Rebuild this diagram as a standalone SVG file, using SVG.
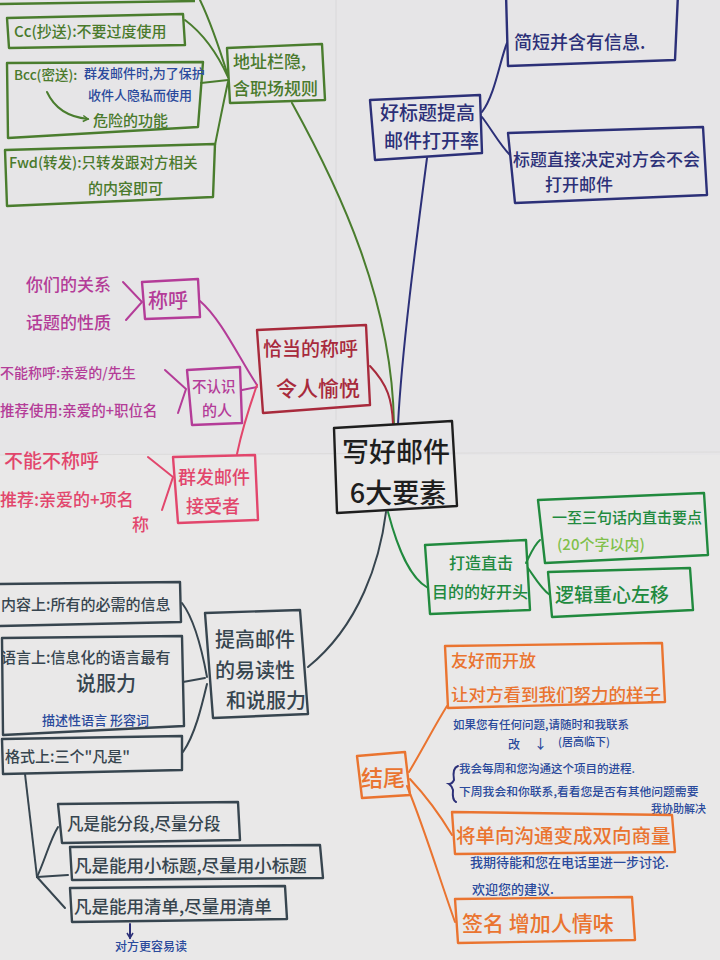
<svg xmlns="http://www.w3.org/2000/svg" width="720" height="960" viewBox="0 0 720 960">
<defs>
<style>
text{font-family:"Noto Sans CJK SC","Noto Sans",sans-serif;font-weight:500}
.box{fill:none;stroke-width:2.4;stroke-linejoin:round}
.ln{fill:none;stroke-width:2;stroke-linecap:round}
.blk{stroke:#1e1e1e}.blkT{fill:#1e1e1e}
.grn{stroke:#4a7d2e}.grnT{fill:#4a7a2c}
.nav{stroke:#2c3078}.navT{fill:#2c3078}
.crm{stroke:#a82a3c}.crmT{fill:#a82a3c}
.mag{stroke:#b43c98}.magT{fill:#b43c98}
.pnk{stroke:#e2466c}.pnkT{fill:#e2466c}
.dgr{stroke:#218a3e}.dgrT{fill:#218a3e}
.lgrT{fill:#80c04a}
.slt{stroke:#37454f}.sltT{fill:#37454f}
.org{stroke:#ea7430}.orgT{fill:#ea7430}
.bluT{fill:#2a4a9c}
</style>
<marker id="ah" markerWidth="8" markerHeight="8" refX="6" refY="4" orient="auto" markerUnits="userSpaceOnUse"><path d="M1,1 L6,4 L1,7" fill="none" stroke-width="1.5" stroke="context-stroke"/></marker>
</defs>
<rect x="0" y="0" width="720" height="960" fill="#e9e8e8"/>
<rect x="0" y="0" width="720" height="455" fill="#e6e5e7"/>
<line x1="336" y1="0" x2="336" y2="420" stroke="#d9d8da" stroke-width="1"/>
<line x1="0" y1="455" x2="720" y2="452" stroke="#dcdbdb" stroke-width="1"/>

<g id="connectors">
<path class="ln grn" d="M292,103 C340,190 392,300 394,424"/>
<path class="ln nav" d="M427,158 C415,250 402,350 398,424"/>
<path class="ln crm" d="M370,366 C388,385 392,400 393,424"/>
<path class="ln dgr" d="M388,512 C398,550 410,578 428,588"/>
<path class="ln slt" d="M386,512 C380,560 360,625 308,667"/>
<path class="ln grn" d="M200,0 C212,25 220,50 228,76"/>
<path class="ln grn" d="M185,20 C205,35 218,55 228,77"/>
<path class="ln grn" d="M201,83 L228,80"/>
<path class="ln grn" d="M215,145 C220,120 224,100 228,82"/>
<path class="ln nav" d="M482,112 C495,95 500,60 507,43"/>
<path class="ln nav" d="M482,117 C492,130 500,145 510,155"/>
<path class="ln mag" d="M200,301 C222,320 240,360 257,385"/>
<path class="ln mag" d="M242,390 L257,387"/>
<path class="ln pnk" d="M237,454 C242,430 250,405 257,385"/>
<path class="ln mag" d="M123,282 L142,302 L126,320"/>
<path class="ln mag" d="M165,370 L186,389 L178,413"/>
<path class="ln pnk" d="M148,457 L173,477 L162,510"/>
<path class="ln dgr" d="M526,563 C530,555 534,545 540,540"/>
<path class="ln dgr" d="M528,568 C535,578 542,590 550,595"/>
<path class="ln slt" d="M182,603 C195,620 202,650 207,677"/>
<path class="ln slt" d="M183,682 L205,678"/>
<path class="ln slt" d="M183,752 C195,735 202,705 207,684"/>
<path class="ln slt" d="M25,774 L37,877"/>
<path class="ln slt" d="M37,877 C45,860 50,840 58,827"/>
<path class="ln slt" d="M37,877 L68,875"/>
<path class="ln slt" d="M37,877 L65,908"/>
<path class="ln nav" d="M130,924 L130,938" marker-end="url(#ah)" stroke-width="1.3"/>
<path class="ln org" d="M409,772 C425,745 435,725 447,706"/>
<path class="ln org" d="M410,779 C425,795 440,815 452,835"/>
<path class="ln org" d="M407,786 C425,830 440,880 455,922"/>
</g>

<g id="center">
<path class="box blk" d="M334,428 L452,421 L457,506 L337,513 Z" stroke-width="3"/>
<text class="blkT" x="396" y="462" font-size="27" font-weight="700" text-anchor="middle">写好邮件</text>
<text class="blkT" x="398" y="503" font-size="27" font-weight="700" text-anchor="middle">6大要素</text>
</g>

<g id="n-address">
<path class="box grn" d="M227,48 L322,44 L325,100 L230,103 Z"/>
<text class="grnT" x="233" y="68" font-size="17">地址栏隐,</text>
<text class="grnT" x="233" y="95" font-size="17">含职场规则</text>
</g>
<g id="l-top-cut"><path class="box grn" d="M0,4 L195,1"/></g>
<g id="l-cc">
<path class="box grn" d="M7,18 L183,14 L185,45 L9,48 Z"/>
<text class="grnT" x="14" y="37" font-size="15">Cc(抄送):不要过度使用</text>
</g>
<g id="l-bcc">
<path class="box grn" d="M7,63 L203,62 L198,127 L8,138 Z"/>
<text class="grnT" x="14" y="80" font-size="13.5">Bcc(密送):</text>
<text class="bluT" x="84" y="78" font-size="13">群发邮件时,为了保护</text>
<text class="bluT" x="88" y="100" font-size="13">收件人隐私而使用</text>
<path class="ln grn" d="M47,92 Q58,116 88,119" marker-end="url(#ah)" stroke-width="1.6"/>
<text class="grnT" x="93" y="126" font-size="15">危险的功能</text>
</g>
<g id="l-fwd">
<path class="box grn" d="M5,150 L215,144 L213,197 L7,206 Z"/>
<text class="grnT" x="9" y="168" font-size="14.5">Fwd(转发):只转发跟对方相关</text>
<text class="grnT" x="88" y="194" font-size="15">的内容即可</text>
</g>

<g id="n-subject">
<path class="box nav" d="M370,100 L480,95 L482,153 L375,160 Z"/>
<text class="navT" x="380" y="120" font-size="19">好标题提高</text>
<text class="navT" x="384" y="148" font-size="19">邮件打开率</text>
</g>
<g id="l-short">
<path class="box nav" d="M506,-6 L678,-6 L675,60 L508,66 Z"/>
<text class="navT" x="514" y="49" font-size="18">简短并含有信息.</text>
</g>
<g id="l-decide">
<path class="box nav" d="M508,133 L703,127 L707,195 L515,203 Z"/>
<text class="navT" x="513" y="166" font-size="17">标题直接决定对方会不会</text>
<text class="navT" x="545" y="191" font-size="17">打开邮件</text>
</g>

<g id="n-greeting">
<path class="box crm" d="M257,330 L366,325 L370,405 L263,413 Z"/>
<text class="crmT" x="263" y="356" font-size="19">恰当的称呼</text>
<text class="crmT" x="276" y="396" font-size="21">令人愉悦</text>
</g>
<g id="s-title">
<path class="box mag" d="M142,282 L198,279 L200,317 L145,319 Z"/>
<text class="magT" x="148" y="308" font-size="20">称呼</text>
</g>
<g id="s-stranger">
<path class="box mag" d="M187,370 L240,367 L242,423 L192,425 Z"/>
<text class="magT" x="192" y="392" font-size="14.5">不认识</text>
<text class="magT" x="202" y="416" font-size="15">的人</text>
</g>
<g id="s-group">
<path class="box pnk" d="M173,457 L255,455 L258,520 L178,523 Z"/>
<text class="pnkT" x="178" y="484" font-size="18">群发邮件</text>
<text class="pnkT" x="186" y="513" font-size="18">接受者</text>
</g>
<g id="t-relation"><text class="magT" x="26" y="291" font-size="17">你们的关系</text></g>
<g id="t-topic"><text class="magT" x="26" y="329" font-size="17">话题的性质</text></g>
<g id="t-cannot"><text class="magT" x="0" y="378" font-size="14">不能称呼:亲爱的/先生</text></g>
<g id="t-recommend"><text class="magT" x="0" y="416" font-size="14.5">推荐使用:亲爱的+职位名</text></g>
<g id="t-must"><text class="pnkT" x="4" y="468" font-size="19">不能不称呼</text></g>
<g id="t-recommend2">
<text class="pnkT" x="0" y="506" font-size="17">推荐:亲爱的+项名</text>
<text class="pnkT" x="132" y="531" font-size="17">称</text>
</g>

<g id="n-opening">
<path class="box dgr" d="M425,545 L526,540 L530,610 L430,614 Z"/>
<text class="dgrT" x="449" y="569" font-size="16">打造直击</text>
<text class="dgrT" x="432" y="598" font-size="16">目的的好开头</text>
</g>
<g id="l-points">
<path class="box dgr" d="M538,500 L704,493 L708,555 L545,563 Z"/>
<text class="dgrT" x="552" y="523" font-size="15">一至三句话内直击要点</text>
<text class="lgrT" x="557" y="550" font-size="15">(20个字以内)</text>
</g>
<g id="l-logic">
<path class="box dgr" d="M548,572 L690,568 L693,610 L552,617 Z"/>
<text class="dgrT" x="555" y="602" font-size="19">逻辑重心左移</text>
</g>

<g id="n-readability">
<path class="box slt" d="M205,613 L300,610 L308,714 L213,718 Z"/>
<text class="sltT" x="215" y="647" font-size="20">提高邮件</text>
<text class="sltT" x="215" y="678" font-size="20">的易读性</text>
<text class="sltT" x="226" y="708" font-size="20">和说服力</text>
</g>
<g id="l-content">
<path class="box slt" d="M-2,584 L180,582 L181,622 L-2,626 Z"/>
<text class="sltT" x="1" y="610" font-size="15">内容上:所有的必需的信息</text>
</g>
<g id="l-language">
<path class="box slt" d="M2,638 L182,636 L184,726 L3,735 Z"/>
<text class="sltT" x="1" y="663" font-size="15">语言上:信息化的语言最有</text>
<text class="sltT" x="76" y="691" font-size="20">说服力</text>
<text class="bluT" x="42" y="725" font-size="13">描述性语言 形容词</text>
</g>
<g id="l-format">
<path class="box slt" d="M2,739 L182,736 L182,770 L3,774 Z"/>
<text class="sltT" x="5" y="762" font-size="15">格式上:三个"凡是"</text>
</g>
<g id="l-para">
<path class="box slt" d="M58,804 L238,802 L240,840 L62,843 Z"/>
<text class="sltT" x="67" y="830" font-size="16.5">凡是能分段,尽量分段</text>
</g>
<g id="l-heading">
<path class="box slt" d="M70,847 L320,845 L323,878 L72,880 Z"/>
<text class="sltT" x="74" y="872" font-size="17.5">凡是能用小标题,尽量用小标题</text>
</g>
<g id="l-list">
<path class="box slt" d="M70,888 L285,886 L287,919 L72,922 Z"/>
<text class="sltT" x="74" y="913" font-size="17.5">凡是能用清单,尽量用清单</text>
</g>
<g id="t-easy"><text class="bluT" x="115" y="951" font-size="12">对方更容易读</text></g>

<g id="n-closing">
<path class="box org" d="M357,756 L405,752 L410,795 L362,798 Z"/>
<text class="orgT" x="361" y="786" font-size="22">结尾</text>
</g>
<g id="l-friendly">
<path class="box org" d="M445,646 L662,643 L665,702 L448,708 Z"/>
<text class="orgT" x="451" y="667" font-size="17">友好而开放</text>
<text class="orgT" x="451" y="701" font-size="17.5" font-weight="700">让对方看到我们努力的样子</text>
</g>
<g id="t-closing-notes">
<text class="bluT" x="453" y="729" font-size="11.5">如果您有任何问题,请随时和我联系</text>
<text class="bluT" x="508" y="749" font-size="12">改</text>
<text class="bluT" x="534" y="748" font-size="13">↓</text>
<text class="bluT" x="558" y="746" font-size="11">(居高临下)</text>
<text class="bluT" x="459" y="773" font-size="11.5">我会每周和您沟通这个项目的进程.</text>
<text class="bluT" x="459" y="796" font-size="11.8">下周我会和你联系,看看您是否有其他问题需要</text>
<text class="bluT" x="651" y="813" font-size="11">我协助解决</text>
<path class="ln nav" stroke-width="1.2" d="M458,766 Q452,768 454,780 Q452,784 449,784 Q452,786 453,790 Q452,800 456,802"/>
</g>
<g id="l-twoway">
<path class="box org" d="M452,812 L672,815 L675,852 L455,854 Z"/>
<text class="orgT" x="456" y="843" font-size="19.5" font-weight="700">将单向沟通变成双向商量</text>
</g>
<g id="t-twoway-notes">
<text class="bluT" x="470" y="867" font-size="13">我期待能和您在电话里进一步讨论.</text>
<text class="bluT" x="472" y="894" font-size="13">欢迎您的建议.</text>
</g>
<g id="l-sign">
<path class="box org" d="M455,899 L632,897 L635,940 L458,943 Z"/>
<text class="orgT" x="462" y="931" font-size="21" font-weight="700">签名 增加人情味</text>
</g>
</svg>
